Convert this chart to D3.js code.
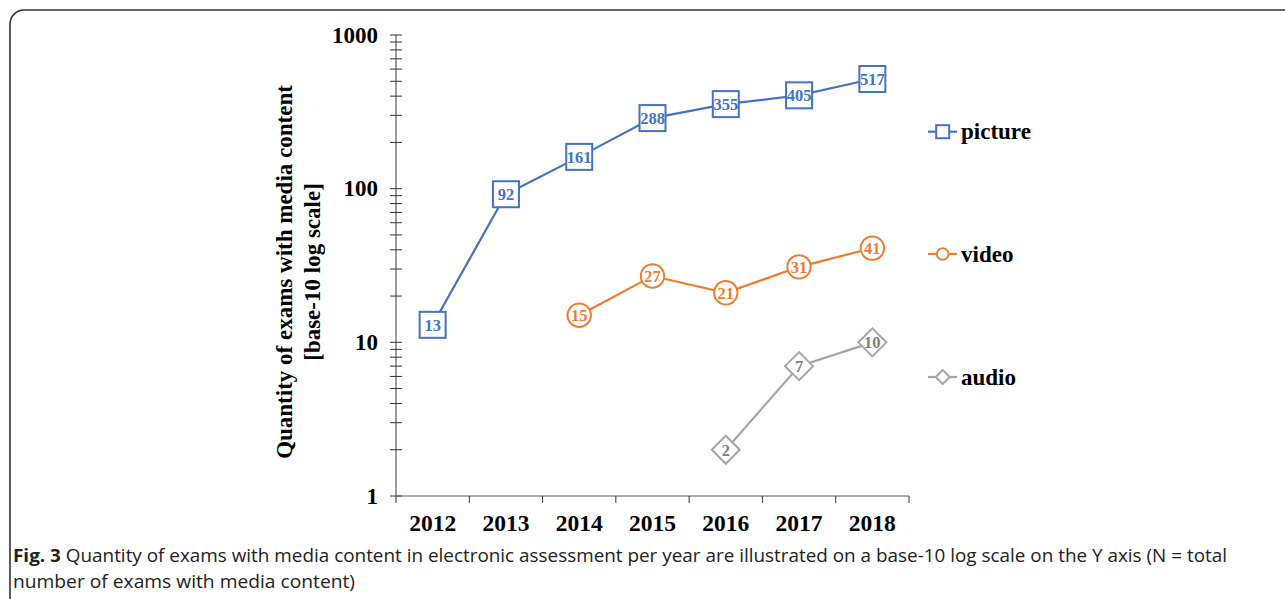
<!DOCTYPE html>
<html><head><meta charset="utf-8">
<script src="https://cdn.jsdelivr.net/npm/d3@7"></script>
<style>body{margin:0;background:#fff;}svg{display:block;}</style>
</head><body>
<svg id="c" width="1285" height="599"></svg>
<script>
const years = ["2012","2013","2014","2015","2016","2017","2018"];
const picture = [13,92,161,288,355,405,517];
const video = [null,null,15,27,21,31,41];
const audio = [null,null,null,null,2,7,10];
const yTicks = [1,10,100,1000];
const seriesNames = ["picture","video","audio"];

const svg = d3.select("#c");
// frame
svg.append("rect").attr("x",10).attr("y",10).attr("width",1290).attr("height",620)
  .attr("rx",14).attr("fill","none").attr("stroke","#333").attr("stroke-width",1.6);

const x = d3.scaleBand().domain(years).range([396,909]);
const y = d3.scaleLog().domain([1,1000]).range([496,35]);
const axisCol="#595959";

// y axis
const gy = svg.append("g");
gy.append("line").attr("x1",396).attr("x2",396).attr("y1",y(1000)).attr("y2",y(1)).attr("stroke",axisCol).attr("stroke-width",1.2);
const minor=[];
for(let d=1; d<1000; d*=10){ for(let k=1;k<10;k++) minor.push(d*k); }
minor.push(1000);
gy.selectAll("line.t").data(minor).join("line").attr("class","t")
  .attr("x1",390).attr("x2",402).attr("y1",d=>y(d)).attr("y2",d=>y(d))
  .attr("stroke","#333").attr("stroke-width",1);
gy.selectAll("text").data(yTicks).join("text")
  .attr("x",378).attr("y",d=>y(d)+7.5).attr("text-anchor","end")
  .attr("font-family","Liberation Serif").attr("font-weight","bold").attr("font-size",23)
  .text(d=>d);

// x axis
const gx = svg.append("g");
gx.append("line").attr("x1",396).attr("x2",909).attr("y1",496).attr("y2",496).attr("stroke",axisCol).attr("stroke-width",1.2);
const bounds = years.map(d=>x(d)).concat([x(years[years.length-1])+x.bandwidth()]);
gx.selectAll("line.t").data(bounds).join("line").attr("class","t")
  .attr("x1",d=>d).attr("x2",d=>d).attr("y1",496).attr("y2",503).attr("stroke","#333");
gx.selectAll("text").data(years).join("text")
  .attr("x",d=>x(d)+x.bandwidth()/2).attr("y",531).attr("text-anchor","middle")
  .attr("font-family","Liberation Serif").attr("font-weight","bold").attr("font-size",23.5)
  .text(d=>d);

// y title
const yt = svg.append("text").attr("transform","translate(292,272) rotate(-90)")
  .attr("text-anchor","middle").attr("font-family","Liberation Serif").attr("font-weight","bold").attr("font-size",23);
yt.append("tspan").attr("x",0).attr("y",0).text("Quantity of exams with media content");
yt.append("tspan").attr("x",0).attr("y",28).text("[base-10 log scale]");

const series = [
  {name:"picture", vals:picture, color:"#4472C4", text:"#4472C4", shape:"square"},
  {name:"video", vals:video, color:"#ED7D31", text:"#ED7D31", shape:"circle"},
  {name:"audio", vals:audio, color:"#A5A5A5", text:"#808080", shape:"diamond"}
];
const cx = d=>x(d.year)+x.bandwidth()/2;

function marker(g, shape, color, s){
  if(shape==="square") g.append("rect").attr("x",-13*s).attr("y",-13*s).attr("width",26*s).attr("height",26*s)
      .attr("fill","#fff").attr("stroke",color).attr("stroke-width",2);
  else if(shape==="circle") g.append("circle").attr("r",11.7*s).attr("fill","#fff").attr("stroke",color).attr("stroke-width",2);
  else g.append("path").attr("d",`M0,${-14*s}L${14*s},0L0,${14*s}L${-14*s},0Z`).attr("fill","#fff").attr("stroke",color).attr("stroke-width",2);
}

series.forEach(s=>{
  const pts = years.map((yr,i)=>({year:yr,v:s.vals[i]})).filter(d=>d.v!=null);
  svg.append("path").datum(pts).attr("fill","none").attr("stroke",s.color).attr("stroke-width",2.2)
    .attr("d",d3.line().x(cx).y(d=>y(d.v)));
  pts.forEach(d=>{
    const g = svg.append("g").attr("transform",`translate(${cx(d)},${y(d.v)})`);
    marker(g,s.shape,s.color,1);
    g.append("text").attr("y",6).attr("text-anchor","middle").attr("font-family","Liberation Serif")
      .attr("font-weight","bold").attr("font-size",16.5).attr("fill",s.text).text(d.v);
  });
});

// legend
const legY = [131.7,254,377];
series.forEach((s,i)=>{
  const g = svg.append("g").attr("transform",`translate(928,${legY[i]})`);
  g.append("line").attr("x1",0).attr("x2",29).attr("stroke",s.color).attr("stroke-width",2.2);
  const m = g.append("g").attr("transform","translate(14.7,0)");
  marker(m,s.shape,s.color,0.5);
  g.append("text").attr("x",33).attr("y",7.5).attr("font-family","Liberation Serif").attr("font-weight","bold")
    .attr("font-size",23).attr("fill","#000").text(s.name);
});

// caption
const cap = svg.append("text").attr("x",13).attr("y",562).attr("font-family","Open Sans").attr("font-size",18).attr("fill","#222")
  .attr("textLength",1214).attr("lengthAdjust","spacingAndGlyphs");
cap.append("tspan").attr("font-weight","bold").text("Fig. 3");
cap.append("tspan").text(" Quantity of exams with media content in electronic assessment per year are illustrated on a base-10 log scale on the Y axis (N = total");
svg.append("text").attr("x",13).attr("y",588).attr("font-family","Open Sans").attr("font-size",18).attr("fill","#222")
  .attr("textLength",342).attr("lengthAdjust","spacingAndGlyphs")
  .text("number of exams with media content)");
</script>
</body></html>
